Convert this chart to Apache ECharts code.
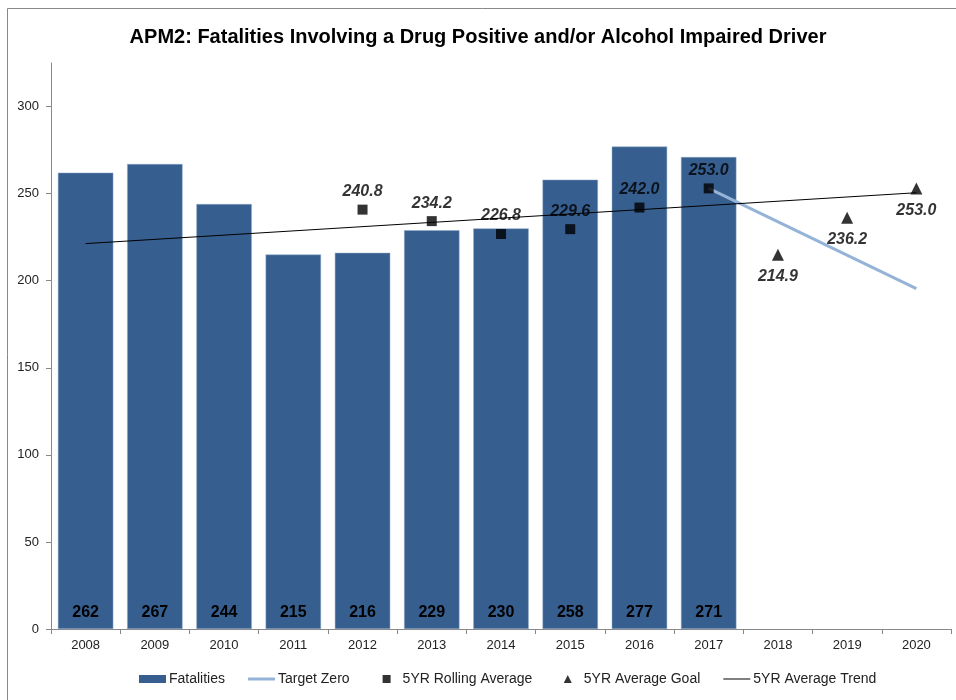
<!DOCTYPE html>
<html>
<head>
<meta charset="utf-8">
<script src="https://cdn.jsdelivr.net/npm/echarts@6/dist/echarts.min.js"></script>
<style>
  html, body { margin: 0; padding: 0; background: #fff; }
  #chart { width: 956px; height: 700px; }
</style>
</head>
<body>
<div id="chart"></div>
<script>
// data
const years = ['2008', '2009', '2010', '2011', '2012', '2013', '2014', '2015', '2016', '2017', '2018', '2019', '2020'];
const fatalities = [262, 267, 244, 215, 216, 229, 230, 258, 277, 271, null, null, null];
const rollingAvg = [null, null, null, null, 240.8, 234.2, 226.8, 229.6, 242.0, 253.0, null, null, null];
const avgGoal = [null, null, null, null, null, null, null, null, null, null, 214.9, 236.2, 253.0];
// straight lines: only the end points are known, the rest is drawn by connecting
const targetZero = [null, null, null, null, null, null, null, null, null, 253.0, null, null, 195.4];
const avgTrend = [221.3, null, null, null, null, null, null, null, null, null, null, null, 250.5];
const yTicks = [0, 50, 100, 150, 200, 250, 300];

const FONT = '"Liberation Sans", Arial, sans-serif';
const chart = echarts.init(document.getElementById('chart'));

const option = {
  backgroundColor: '#fff',
  animation: false,
  textStyle: { fontFamily: FONT },
  title: {
    text: 'APM2: Fatalities Involving a Drug Positive and/or Alcohol Impaired Driver',
    left: 'center',
    top: 22,
    textStyle: { fontFamily: FONT, fontSize: 20, fontWeight: 'bold', color: '#000' },
  },
  graphic: [
    // outer chart frame (cut off at right and bottom)
    {
      type: 'rect',
      shape: { x: 7.5, y: 8.5, width: 1000, height: 1000 },
      style: { fill: 'none', stroke: '#888', lineWidth: 1 },
      silent: true,
    },
  ],
  legend: {
    bottom: 9,
    left: 134,
    itemWidth: 27,
    itemHeight: 8,
    itemGap: 23,
    textStyle: { fontFamily: FONT, fontSize: 14, color: '#222', padding: [0, 0, 0, -2] },
    data: [
      { name: 'Fatalities', icon: 'rect', itemStyle: { borderWidth: 0 } },
      { name: 'Target Zero', icon: 'path://M0,0 h27 v3 h-27z' },
      { name: '5YR Rolling Average', icon: 'path://M0,0 M27,8 M10,0 h8 v8 h-8z' },
      { name: '5YR Average Goal', icon: 'path://M0,0 M27,8 M14,-1 L18.5,8 L9.5,8z' },
      { name: '5YR Average Trend', icon: 'path://M0,0 h27 v1 h-27z' },
    ],
  },
  grid: { left: 51, right: 5, top: 63, bottom: 71 },
  xAxis: {
    type: 'category',
    data: years,
    axisLine: { lineStyle: { color: '#888' } },
    axisTick: { show: true, length: 5, lineStyle: { color: '#888' } },
    axisLabel: { color: '#222', fontSize: 13, margin: 10, fontFamily: FONT },
  },
  yAxis: {
    type: 'value',
    min: 0,
    max: 325,
    interval: 50,
    splitLine: { show: false },
    axisLine: { show: true, lineStyle: { color: '#888' } },
    axisTick: { show: true, length: 5, lineStyle: { color: '#888' }, customValues: yTicks },
    axisLabel: { color: '#222', fontSize: 13, margin: 12, fontFamily: FONT, customValues: yTicks },
  },
  series: [
    {
      name: 'Fatalities',
      type: 'bar',
      data: fatalities,
      barCategoryGap: '20%',
      itemStyle: { color: '#365E8F', borderColor: '#8FA8C8', borderWidth: 0.5 },
      label: {
        show: true,
        position: 'insideBottom',
        distance: 8,
        color: '#000',
        fontSize: 16,
        fontWeight: 'bold',
        fontFamily: FONT,
      },
      z: 1,
    },
    {
      name: 'Target Zero',
      type: 'line',
      data: targetZero,
      connectNulls: true,
      showSymbol: false,
      symbol: 'none',
      lineStyle: { color: '#95B3D7', width: 3 },
      itemStyle: { color: '#95B3D7' },
      z: 2,
    },
    {
      name: '5YR Average Trend',
      type: 'line',
      data: avgTrend,
      connectNulls: true,
      showSymbol: false,
      symbol: 'none',
      lineStyle: { color: '#000', width: 1 },
      itemStyle: { color: '#000' },
      z: 3,
    },
    {
      name: '5YR Rolling Average',
      type: 'scatter',
      data: rollingAvg,
      symbol: 'rect',
      symbolSize: 10,
      itemStyle: { color: '#000' },
      label: {
        show: true,
        position: 'top',
        distance: 5,
        color: '#000',
        fontSize: 16,
        fontWeight: 'bold',
        fontStyle: 'italic',
        fontFamily: FONT,
        formatter: (p) => p.value.toFixed(1),
      },
      z: 4,
    },
    {
      name: '5YR Average Goal',
      type: 'scatter',
      data: avgGoal,
      symbol: 'triangle',
      symbolSize: 12,
      itemStyle: { color: '#000' },
      label: {
        show: true,
        position: 'bottom',
        distance: 8,
        color: '#000',
        fontSize: 16,
        fontWeight: 'bold',
        fontStyle: 'italic',
        fontFamily: FONT,
        formatter: (p) => p.value.toFixed(1),
      },
      z: 4,
    },
  ],
};

chart.setOption(option);
</script>
</body>
</html>
